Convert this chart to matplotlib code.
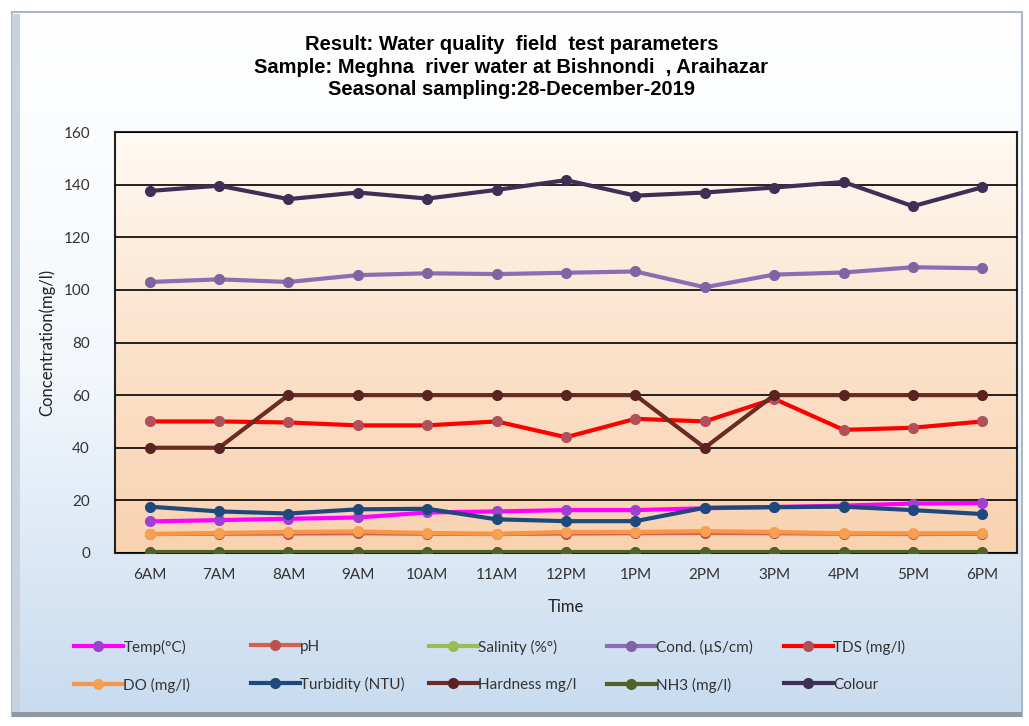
import numpy as np
import matplotlib
matplotlib.use('Agg')
import matplotlib.pyplot as plt
from matplotlib.colors import LinearSegmentedColormap
from matplotlib.patches import Rectangle

times = ['6AM', '7AM', '8AM', '9AM', '10AM', '11AM', '12PM', '1PM', '2PM', '3PM', '4PM', '5PM', '6PM']

temp = [12, 12.5, 13, 13.5, 15.4, 15.8, 16.3, 16.3, 17, 17.5, 18, 18.8, 19]
ph = [7.2, 7.3, 7.4, 7.5, 7.3, 7.2, 7.4, 7.5, 7.6, 7.5, 7.3, 7.2, 7.3]
salinity = [0.1, 0.1, 0.1, 0.1, 0.1, 0.1, 0.1, 0.1, 0.1, 0.1, 0.1, 0.1, 0.1]
cond = [103, 104, 103, 105.6, 106.3, 106, 106.5, 107, 101, 105.8, 106.6, 108.6, 108.2]
tds = [50, 50, 49.6, 48.5, 48.5, 50, 44, 51, 50, 58.6, 46.8, 47.6, 50]
do = [7.2, 7.6, 8, 8.2, 7.6, 7.3, 8, 8, 8.3, 8, 7.5, 7.5, 7.5]
turbidity = [17.6, 15.8, 15, 16.6, 16.8, 12.8, 12.1, 12.1, 17.2, 17.4, 17.6, 16.3, 14.8]
hardness = [40, 40, 60, 60, 60, 60, 60, 60, 40, 60, 60, 60, 60]
nh3 = [0.2, 0.2, 0.2, 0.2, 0.2, 0.2, 0.2, 0.2, 0.2, 0.2, 0.2, 0.2, 0.2]
colour = [137.6, 139.6, 134.5, 137, 134.7, 138, 141.7, 135.8, 137, 138.9, 141, 131.8, 139]

names = ['Temp(°C)', 'pH', 'Salinity (%°)', 'Cond. (µS/cm)', 'TDS (mg/l)',
         'DO (mg/l)', 'Turbidity (NTU)', 'Hardness mg/l', 'NH3 (mg/l)', 'Colour']
series = [temp, ph, salinity, cond, tds, do, turbidity, hardness, nh3, colour]
line_colors = ['#FF00FF', '#D9604C', '#9BBB59', '#8A6DB5', '#FF0000',
               '#F79646', '#1F497D', '#6B2A22', '#4F6228', '#3F2F55']
marker_colors = ['#A040D0', '#C0504D', '#9BBB59', '#8064A2', '#B0505A',
                 '#F7A050', '#1F497D', '#5A2320', '#4F6228', '#3F2F55']

fig = plt.figure(figsize=(10.29, 7.26), dpi=100)
fig.patch.set_facecolor('white')

# chart area background
bg = fig.add_axes([0, 0, 1, 1], zorder=-2)
bg.set_xlim(0, 1029)
bg.set_ylim(726, 0)
bg.axis('off')
cm_bg = LinearSegmentedColormap.from_list('bg', ['#FFFFFF', '#F4F8FC', '#C8DBEF'])
grad = np.linspace(0, 1, 256).reshape(-1, 1)
bg.imshow(grad, cmap=cm_bg, extent=[14, 1022, 716, 12], aspect='auto')
bg.add_patch(Rectangle((12, 12), 1010, 704, fill=False, edgecolor='#AEB8C4', lw=1.5))
bg.add_patch(Rectangle((12, 14), 8, 702, color='#C9D2DC', lw=0))
bg.add_patch(Rectangle((12, 712), 1010, 5, color='#8F99A5', lw=0))

ax = fig.add_axes([115 / 1029, 1 - 553 / 726, (1017 - 115) / 1029, (553 - 132) / 726])
x = np.arange(len(times))
cm_plot = LinearSegmentedColormap.from_list('pl', ['#FFFAF4', '#FBE3CC', '#F9D2B0'])
ax.imshow(grad, cmap=cm_plot, extent=[-0.5, 12.5, 0, 160], aspect='auto', zorder=0)

lines = []
for s, name, lc, mc in zip(series, names, line_colors, marker_colors):
    ln, = ax.plot(x, s, color=lc, lw=3, marker='o', markersize=7,
                  markerfacecolor=mc, markeredgecolor=mc, label=name, zorder=3)
    lines.append(ln)

ax.set_xlim(-0.5, 12.5)
ax.set_ylim(0, 160)
ax.set_yticks(range(0, 161, 20))
ax.set_xticks(x)
ax.set_xticklabels(times)
ax.grid(axis='y', color='black', lw=1.2, zorder=1)
ax.set_axisbelow(False)
ax.tick_params(axis='x', length=0, labelsize=11, colors='#333333', pad=11)
ax.tick_params(axis='y', length=0, labelsize=11, colors='#333333', pad=18)
for lab in ax.get_xticklabels() + ax.get_yticklabels():
    lab.set_family(['Lato', 'DejaVu Sans'])
for sp in ax.spines.values():
    sp.set_color('#222222')
    sp.set_linewidth(1.5)

ax.set_xlabel('Time', fontsize=12, family=['Lato', 'DejaVu Sans'], labelpad=12, color='#222222')
ax.set_ylabel('Concentration(mg/l)', fontsize=12, family=['Lato', 'DejaVu Sans'], labelpad=6, color='#222222')

fig.text(0.497, 0.952, 'Result: Water quality  field  test parameters\nSample: Meghna  river water at Bishnondi  , Araihazar\nSeasonal sampling:28-December-2019',
         ha='center', va='top', fontsize=14.5, fontweight='bold', linespacing=1.25,
         family=['Liberation Sans Narrow', 'Liberation Sans', 'DejaVu Sans'])

# legend: five columns of two entries each, evenly spaced like the original
col_x = [66, 243, 421, 599, 776]
for c in range(5):
    leg = fig.legend([lines[c], lines[c + 5]], [names[c], names[c + 5]],
                     loc='upper left', bbox_to_anchor=(col_x[c] / 1029, 1 - 632 / 726),
                     frameon=False, handlelength=3.2, handletextpad=0.05,
                     labelspacing=1.5, borderpad=0,
                     prop={'family': ['Lato', 'DejaVu Sans'], 'size': 11})
    for t in leg.get_texts():
        t.set_color('#333333')

fig.savefig('out.png', dpi=100)
